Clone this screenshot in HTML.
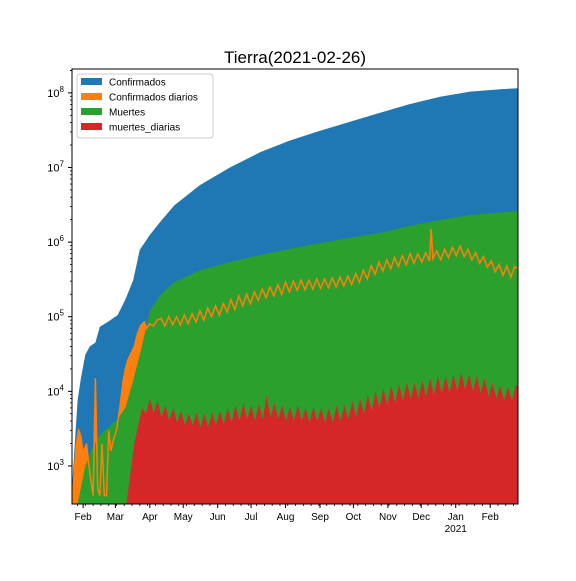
<!DOCTYPE html>
<html><head><meta charset="utf-8"><style>
body{margin:0;background:#fff}
svg{font-family:"Liberation Sans",sans-serif}
</style></head><body>
<svg id="c" width="576" height="576" xmlns="http://www.w3.org/2000/svg"></svg>
<script>
// days since 2020-01-22
const confDays=[0,2,5,8,12,16,21,25,32,41,48,55,61,70,79,92,115,142,169,196,223,250,277,304,331,358,385,401];
const confVals=[500,1500,7600,15000,31000,40000,45000,73000,85000,105000,170000,310000,790000,1250000,1850000,3100000,5800000,10000000,16000000,23000000,31000000,41000000,54000000,71000000,89000000,104000000,112000000,115000000];
const dailyDays=[0,2,4,6,8,10,13,16,19,21,22,23,25,27,29,31,33,35,37,40,43,46,48,50,53,56,59,62,65,67,70,73,76.5,80,83.5,87,90.5,94,97.5,101,104.5,108,111.5,115,118.5,122,125.5,129,132.5,136,139.5,143,146.5,150,153.5,157,160.5,164,167.5,171,174.5,178,181.5,185,188.5,192,195.5,199,202.5,206,209.5,213,216.5,220,223.5,227,230.5,234,237.5,241,244.5,248,251.5,255,258.5,262,265.5,269,272.5,276,279.5,283,286.5,290,293.5,297,300.5,304,307.5,311,314.5,318,321.5,323,324.5,328,331.5,335,338.5,342,345.5,349,352.5,356,359.5,363,366.5,370,373.5,377,380.5,384,387.5,391,394.5,398,401];
const dailyVals=[300,800,2000,3000,2500,1500,2000,800,400,15000,3000,500,400,2000,400,400,3000,1600,2200,3000,6000,14000,20000,26000,32000,40000,60000,77000,85000,70000,80000,75000,90000,95000,75000,100000,78000,100000,78000,105000,80000,110000,85000,120000,90000,130000,100000,140000,105000,150000,115000,170000,125000,190000,140000,200000,150000,215000,165000,235000,180000,250000,190000,270000,200000,290000,215000,300000,225000,310000,230000,310000,235000,320000,240000,320000,245000,330000,250000,340000,260000,350000,270000,380000,290000,420000,320000,480000,370000,540000,410000,580000,440000,620000,470000,660000,500000,700000,520000,700000,540000,720000,560000,1500000,600000,760000,580000,800000,620000,850000,660000,880000,640000,800000,580000,720000,520000,640000,460000,560000,400000,500000,360000,480000,340000,470000,440000];
const deathDays=[5,9,12,18,25,32,40,48,55,62,70,80,92,115,142,169,196,223,250,277,304,331,358,385,401];
const deathVals=[310,600,1000,1700,2600,3200,4100,6000,14000,36000,120000,200000,290000,420000,540000,670000,810000,970000,1140000,1330000,1650000,1980000,2300000,2500000,2600000];
const ddDays=[49,52.5,56,59.5,63,66.5,70,73.5,77,80.5,84,87.5,91,94.5,98,101.5,105,108.5,112,115.5,119,122.5,126,129.5,133,136.5,140,143.5,147,150.5,154,157.5,161,164.5,168,171.5,175,178.5,182,185.5,189,192.5,196,199.5,203,206.5,210,213.5,217,220.5,224,227.5,231,234.5,238,241.5,245,248.5,252,255.5,259,262.5,266,269.5,273,276.5,280,283.5,287,290.5,294,297.5,301,304.5,308,311.5,315,318.5,322,325.5,329,332.5,336,339.5,343,346.5,350,353.5,357,360.5,364,367.5,371,374.5,378,381.5,385,388.5,392,395.5,399,401];
const ddVals=[310,800,2000,3500,6000,5000,8000,5000,7500,4500,6500,4000,6000,3800,5500,3500,5000,3500,5200,3300,5000,3300,5200,3500,5500,3600,6000,3800,6500,4000,7000,4200,6500,4000,6800,4200,9000,4500,7000,4300,6500,4000,6200,4000,6500,4000,6000,3800,6200,4000,6000,3800,6000,3800,6500,4000,6500,4200,7500,4500,8000,5000,9000,5500,10000,6000,11000,6500,12000,7000,12500,7500,13000,8000,13000,8000,14000,8500,15000,9000,16000,9500,16000,9500,17000,10000,18000,10500,17000,10000,16000,9500,15000,8500,13000,8000,12000,7500,11500,7500,12000,12000];
const yTicks=[3,4,5,6,7,8];
const months=["Feb","Mar","Apr","May","Jun","Jul","Aug","Sep","Oct","Nov","Dec","Jan","Feb"];
const monthDays=[10,39,70,100,131,161,192,223,253,284,314,345,376];

const L=72,R=518,T=69,B=504,D0=0,D1=401;
const X=d=>L+(d-D0)/(D1-D0)*(R-L);
const lmin=2.49,lmax=8.32;
const Y=v=>B-(Math.log10(Math.max(v,1))-lmin)/(lmax-lmin)*(B-T);
const svg=document.getElementById('c');
const NS="http://www.w3.org/2000/svg";
function el(tag,attrs,parent){const e=document.createElementNS(NS,tag);for(const k in attrs)e.setAttribute(k,attrs[k]);(parent||svg).appendChild(e);return e;}
const defs=el('defs',{});const cp=el('clipPath',{id:'clip'},defs);el('rect',{x:L,y:T,width:R-L,height:B-T},cp);
const g=el('g',{'clip-path':'url(#clip)'});
function pts(ds,vs){return ds.map((d,i)=>X(d).toFixed(1)+","+Y(vs[i]).toFixed(1));}
function area(ds,vs,color,name){const p=pts(ds,vs);const s="M"+X(ds[0])+","+(B+5)+" L"+p.join(" L")+" L"+X(ds[ds.length-1])+","+(B+5)+"Z";
const a=el('path',{d:s,fill:color},g);

}
area(confDays,confVals,'#1f77b4','confirmados-area');
area(dailyDays,dailyVals,'#ff7f0e','confirmados-diarios-area');
area(deathDays,deathVals,'#2ca02c','muertes-area');
const ln=el('polyline',{points:pts(dailyDays,dailyVals).join(" "),fill:'none',stroke:'#ff7f0e','stroke-width':1.5},g);


area(ddDays,ddVals,'#d62728','muertes-diarias-area');
el('rect',{x:L,y:T,width:R-L,height:B-T,fill:'none',stroke:'#000','stroke-width':1});
yTicks.forEach(e=>{const y=Y(Math.pow(10,e));el('line',{x1:L-4,x2:L,y1:y,y2:y,stroke:'#000'});
const t=el('text',{x:L-8,y:y+4,'font-size':11,'text-anchor':'end'});
t.textContent="10";const s=el('tspan',{dy:-5,'font-size':8},t);s.textContent=e;
for(let m=2;m<10;m++){const ym=Y(m*Math.pow(10,e));if(ym>T&&ym<B)el('line',{x1:L-2,x2:L,y1:ym,y2:ym,stroke:'#000','stroke-width':0.8});}});
{const ym=Y(2*Math.pow(10,8));if(ym>T)el('line',{x1:L-2,x2:L,y1:ym,y2:ym,stroke:'#000'});}
for(let d=5;d<=D1;d+=7)el('line',{x1:X(d),x2:X(d),y1:B,y2:B+2,stroke:'#000','stroke-width':0.8});
months.forEach((m,i)=>{const x=X(monthDays[i]);el('line',{x1:x,x2:x,y1:B,y2:B+4,stroke:'#000'});
const t=el('text',{x:x,y:B+16,'font-size':10,'text-anchor':'middle'});t.textContent=m;});
const yr=el('text',{x:X(345),y:B+28,'font-size':10,'text-anchor':'middle'});yr.textContent="2021";
const ti=el('text',{x:295,y:63,'font-size':17,'text-anchor':'middle'});ti.textContent="Tierra(2021-02-26)";
const lg=el('g',{});
el('rect',{x:77,y:74,width:136,height:64,rx:3,fill:'#fff','fill-opacity':0.85,stroke:'#ccc'},lg);
[["Confirmados",'#1f77b4'],["Confirmados diarios",'#ff7f0e'],["Muertes",'#2ca02c'],["muertes_diarias",'#d62728']].forEach((e,i)=>{
const y=82+i*15;el('rect',{x:81,y:y-4,width:21,height:7,fill:e[1]},lg);
const t=el('text',{x:109,y:y+3.5,'font-size':10},lg);t.textContent=e[0];});
</script>
</body></html>
